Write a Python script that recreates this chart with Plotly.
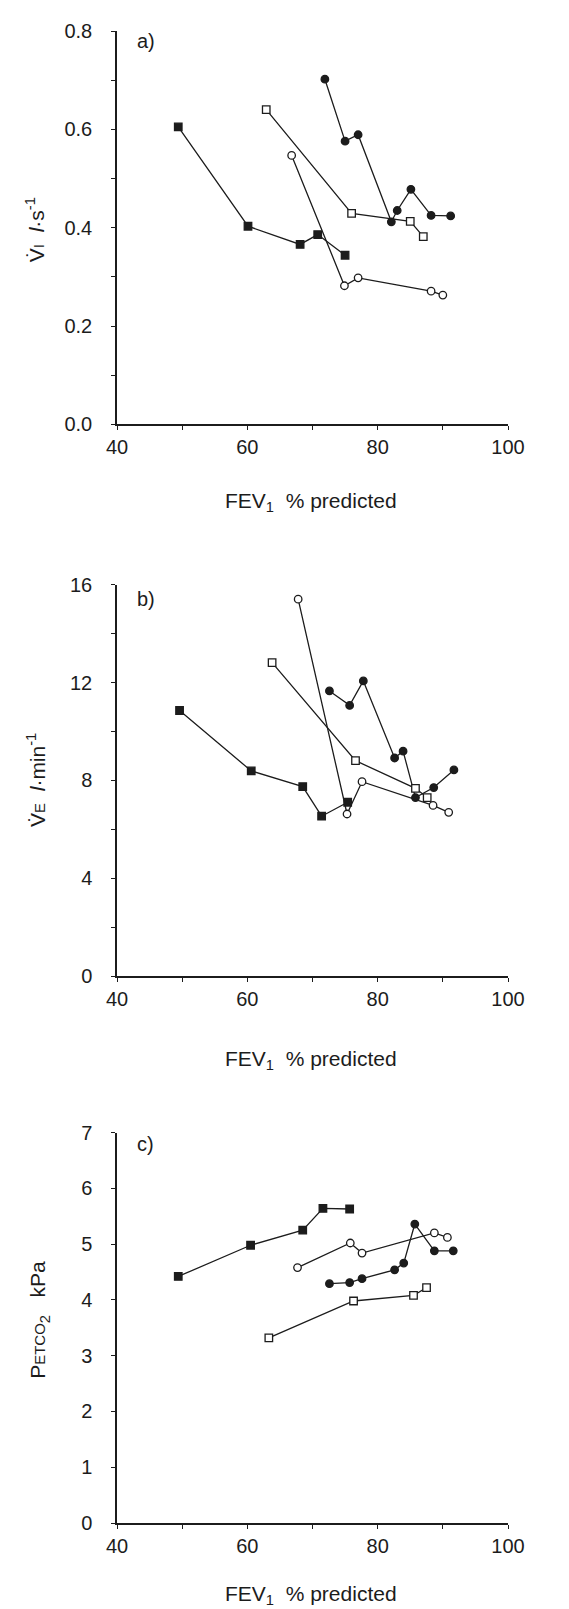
import plotly.graph_objects as go

# ---------------- data ----------------
# Panel a) inspiratory flow (l/s)
a_fsq_x = [49.4, 60.1, 68.1, 70.8, 75.0]
a_fsq_y = [0.605, 0.403, 0.366, 0.386, 0.344]
a_fci_x = [71.9, 75.0, 77.0, 82.1, 83.0, 85.1, 88.2, 91.2]
a_fci_y = [0.702, 0.576, 0.589, 0.412, 0.435, 0.478, 0.425, 0.424]
a_osq_x = [62.9, 76.0, 85.0, 87.0]
a_osq_y = [0.640, 0.429, 0.413, 0.382]
a_oci_x = [66.8, 74.9, 77.0, 88.2, 90.0]
a_oci_y = [0.547, 0.282, 0.298, 0.271, 0.263]

# Panel b) minute ventilation (l/min)
b_fsq_x = [49.6, 60.6, 68.5, 71.4, 75.4]
b_fsq_y = [10.86, 8.39, 7.75, 6.54, 7.11]
b_fci_x = [72.6, 75.7, 77.8, 82.6, 83.9, 85.8, 88.6, 91.7]
b_fci_y = [11.66, 11.07, 12.07, 8.92, 9.20, 7.30, 7.71, 8.43]
b_osq_x = [63.8, 76.6, 85.8, 87.6]
b_osq_y = [12.82, 8.81, 7.68, 7.30]
b_oci_x = [67.8, 75.3, 77.6, 88.5, 90.9]
b_oci_y = [15.41, 6.63, 7.95, 6.98, 6.70]

# Panel c) end-tidal PCO2 (kPa)
c_fsq_x = [49.4, 60.5, 68.5, 71.6, 75.7]
c_fsq_y = [4.42, 4.98, 5.25, 5.64, 5.63]
c_fci_x = [72.6, 75.7, 77.6, 82.6, 84.0, 85.7, 88.7, 91.6]
c_fci_y = [4.29, 4.31, 4.38, 4.54, 4.66, 5.36, 4.88, 4.88]
c_osq_x = [63.3, 76.3, 85.5, 87.5]
c_osq_y = [3.32, 3.98, 4.08, 4.22]
c_oci_x = [67.7, 75.8, 77.6, 88.7, 90.7]
c_oci_y = [4.58, 5.02, 4.84, 5.20, 5.12]

x_ticks = [40, 60, 80, 100]

INK = "#1c1c1c"
FONT = "Liberation Sans, Arial, sans-serif"

fig = go.Figure()

styles = {
    "fsq": dict(symbol="square", color=INK),
    "fci": dict(symbol="circle", color=INK),
    "osq": dict(symbol="square", color="white"),
    "oci": dict(symbol="circle", color="white"),
}

panels = [
    ("y", [("fsq", a_fsq_x, a_fsq_y), ("fci", a_fci_x, a_fci_y),
           ("osq", a_osq_x, a_osq_y), ("oci", a_oci_x, a_oci_y)]),
    ("y2", [("fsq", b_fsq_x, b_fsq_y), ("fci", b_fci_x, b_fci_y),
            ("osq", b_osq_x, b_osq_y), ("oci", b_oci_x, b_oci_y)]),
    ("y3", [("fsq", c_fsq_x, c_fsq_y), ("fci", c_fci_x, c_fci_y),
            ("osq", c_osq_x, c_osq_y), ("oci", c_oci_x, c_oci_y)]),
]
xref_for = {"y": "x", "y2": "x2", "y3": "x3"}

for yref, series in panels:
    for key, xs, ys in series:
        st = styles[key]
        fig.add_trace(go.Scatter(
            x=xs, y=ys, mode="lines+markers",
            xaxis=xref_for[yref], yaxis=yref,
            line=dict(color=INK, width=1.3),
            marker=dict(symbol=st["symbol"], size=7.5, color=st["color"],
                        line=dict(color=INK, width=1.3)),
            cliponaxis=False, showlegend=False, hoverinfo="skip",
        ))

tickfont = dict(family=FONT, size=20, color=INK)

def xaxis(anchor):
    return dict(range=[40, 100], tickvals=x_ticks, ticks="outside", ticklen=4,
                tickwidth=1.3, tickcolor=INK, showline=True, linecolor=INK,
                linewidth=1.5, showgrid=False, zeroline=False, anchor=anchor,
                tickfont=tickfont, fixedrange=True, ticklabelstandoff=0,
                minor=dict(dtick=10, tick0=40, ticks="outside", ticklen=4,
                           tickcolor=INK, tickwidth=1.3, showgrid=False))

def yaxis(rng, dtick, minor, domain, anchor, fmt=None):
    d = dict(range=rng, dtick=dtick, tick0=0, ticks="outside", ticklen=4,
             tickwidth=1.3, tickcolor=INK, showline=True, linecolor=INK,
             linewidth=1.5, showgrid=False, zeroline=False, domain=domain,
             anchor=anchor, tickfont=tickfont, fixedrange=True,
             ticklabelstandoff=15)
    if fmt:
        d["tickformat"] = fmt
    if minor:
        d["minor"] = dict(dtick=minor, tick0=0, ticks="outside", ticklen=4,
                          tickcolor=INK, tickwidth=1.3, showgrid=False)
    return d

W, H = 569, 1609
L, R, T, B = 109, 69, 17, 94
PH = H - T - B
PW = W - L - R

def py(p):  # pixel row -> paper y
    return (H - B - p) / PH

def px(p):  # pixel col -> paper x
    return (p - L) / PW

fig.update_layout(
    width=W, height=H,
    margin=dict(l=L, r=R, t=T, b=B),
    paper_bgcolor="white", plot_bgcolor="white",
    font=dict(family=FONT, color=INK),
    xaxis=xaxis("y"), xaxis2=xaxis("y2"), xaxis3=xaxis("y3"),
    yaxis=yaxis([0, 0.8], 0.2, 0.1, [py(412), 1.0], "x", ".1f"),
    yaxis2=yaxis([0, 16], 4, 2, [py(966), py(573)], "x2"),
    yaxis3=yaxis([0, 7], 1, None, [0, py(1123)], "x3"),
)

ann = []
# x titles
for yy in (490, 1050, 1587):
    ann.append(dict(text="FEV<sub>1</sub>  % predicted", xref="paper", yref="paper",
                    x=px(303), y=py(yy), xanchor="center", yanchor="middle",
                    showarrow=False, font=dict(family=FONT, size=21, color=INK)))
# y titles
ytitles = [
    ("V\u0307<span style='font-size:15px'>I</span>  <i>l</i>\u00b7s<sup>-1</sup>", 27, 217),
    ("V\u0307<span style='font-size:15px'>E</span>  <i>l</i>\u00b7min<sup>-1</sup>", 28, 769),
    ("P<span style='font-size:15px'>ETCO</span><sub>2</sub>   kPa", 31, 1311),
]
for txt, xx, yy in ytitles:
    ann.append(dict(text=txt, xref="paper", yref="paper", x=px(xx), y=py(yy),
                    xanchor="center", yanchor="middle", textangle=-90,
                    showarrow=False, font=dict(family=FONT, size=21, color=INK)))
# panel labels
for lab, yy in (("a)", 27), ("b)", 587), ("c)", 1134)):
    ann.append(dict(text=lab, xref="paper", yref="paper", x=px(127), y=py(yy),
                    xanchor="left", yanchor="middle", showarrow=False,
                    font=dict(family=FONT, size=20, color=INK)))
fig.update_layout(annotations=ann)

fig.write_html("out.html")
